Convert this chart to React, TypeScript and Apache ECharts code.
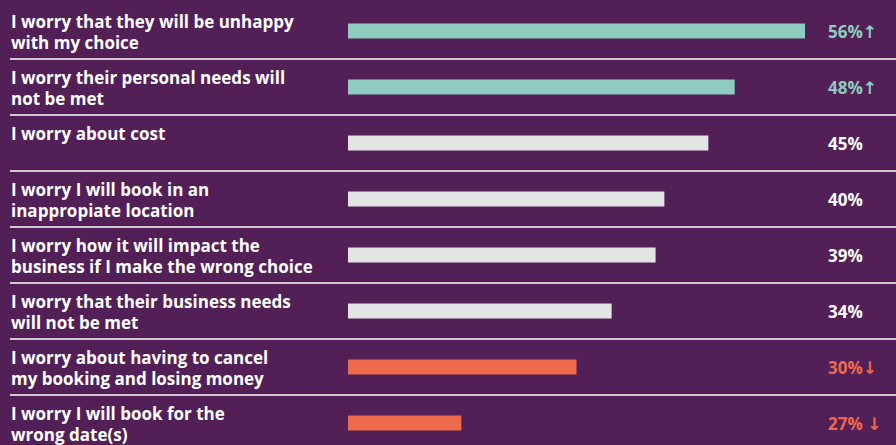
import React, { useEffect, useRef } from "react";
import * as echarts from "echarts";

const categories = [
  "I worry that they will be unhappy\nwith my choice",
  "I worry their personal needs will\nnot be met",
  "I worry about cost",
  "I worry I will book in an\ninappropiate location",
  "I worry how it will impact the\nbusiness if I make the wrong choice",
  "I worry that their business needs\nwill not be met",
  "I worry about having to cancel\nmy booking and losing money",
  "I worry I will book for the\nwrong date(s)",
];
// Displayed percentages
const percentValues = [56, 48, 45, 40, 39, 34, 30, 27];
// Bar lengths as drawn in the picture (last bar is drawn shorter than its label)
const barValues = [56, 48, 45, 40, 39, 34, 30, 16.9];
const trends = ["up", "up", "none", "none", "none", "none", "down", "down"];
const arrowSuffix = ["↑", "↑", "", "", "", "", "↓", " ↓"];

const BG = "#521F57";
const TEAL = "#8ECCC0";
const ORANGE = "#EE6A4C";
const GREY = "#E3E5E5";
const FONT = '"Open Sans", "DejaVu Sans", sans-serif';

export default function App() {
  const ref = useRef<HTMLDivElement>(null);
  useEffect(() => {
    if (!ref.current) return;
    const chart = echarts.init(ref.current, null, { renderer: "svg" });
    const colorFor = (t: string) => (t === "up" ? TEAL : t === "down" ? ORANGE : GREY);
    const valueStyle = (color: string) => ({
      color,
      fontSize: 17,
      fontWeight: "bold",
      fontFamily: FONT,
    });
    chart.setOption({
      animation: false,
      backgroundColor: BG,
      grid: [
        { left: 10, right: 0, top: 3, height: 448, outerBoundsMode: "none" },
        { left: 348, right: 91, top: 3, height: 448, outerBoundsMode: "none" },
      ],
      xAxis: [
        { type: "value", gridIndex: 0, show: false, min: 0, max: 1 },
        { type: "value", gridIndex: 1, show: false, min: 4, max: 56 },
      ],
      yAxis: [
        {
          type: "category",
          gridIndex: 0,
          inverse: true,
          data: categories,
          axisLine: { show: false },
          axisTick: { show: false },
          axisLabel: { show: false },
          splitLine: {
            show: true,
            showMinLine: false,
            showMaxLine: false,
            lineStyle: { color: "#FFFFFF", width: 1.5 },
          },
        },
        {
          type: "category",
          gridIndex: 1,
          inverse: true,
          position: "right",
          data: categories,
          axisLine: { show: false },
          axisTick: { show: false },
          splitLine: { show: false },
          axisLabel: {
            margin: 23,
            align: "left",
            formatter: (_v: string, i: number) =>
              `{${trends[i]}|${percentValues[i]}%${arrowSuffix[i]}}`,
            rich: {
              up: valueStyle(TEAL),
              down: valueStyle(ORANGE),
              none: valueStyle("#FFFFFF"),
            },
          },
        },
      ],
      series: [
        {
          type: "bar",
          xAxisIndex: 1,
          yAxisIndex: 1,
          barWidth: 15,
          data: barValues.map((v, i) => ({
            value: v,
            itemStyle: { color: colorFor(trends[i]) },
          })),
        },
        {
          type: "custom",
          xAxisIndex: 0,
          yAxisIndex: 0,
          data: categories.map((_c, i) => [0, i]),
          renderItem: (params: any, api: any) => {
            const i = api.value(1);
            const c = api.coord([0, i]);
            const band = api.size([0, 1])[1];
            return {
              type: "text",
              x: params.coordSys.x + 1,
              y: c[1] - band / 2 + 7.5,
              style: {
                text: categories[i],
                fill: "#FFFFFF",
                font: `bold 17px ${FONT}`,
                lineHeight: 21,
                align: "left",
                verticalAlign: "top",
              },
            };
          },
        },
      ],
    });
    return () => chart.dispose();
  }, []);
  return (
    <div
      ref={ref}
      style={{ position: "fixed", left: 0, top: 0, width: 896, height: 445, background: BG }}
    />
  );
}
